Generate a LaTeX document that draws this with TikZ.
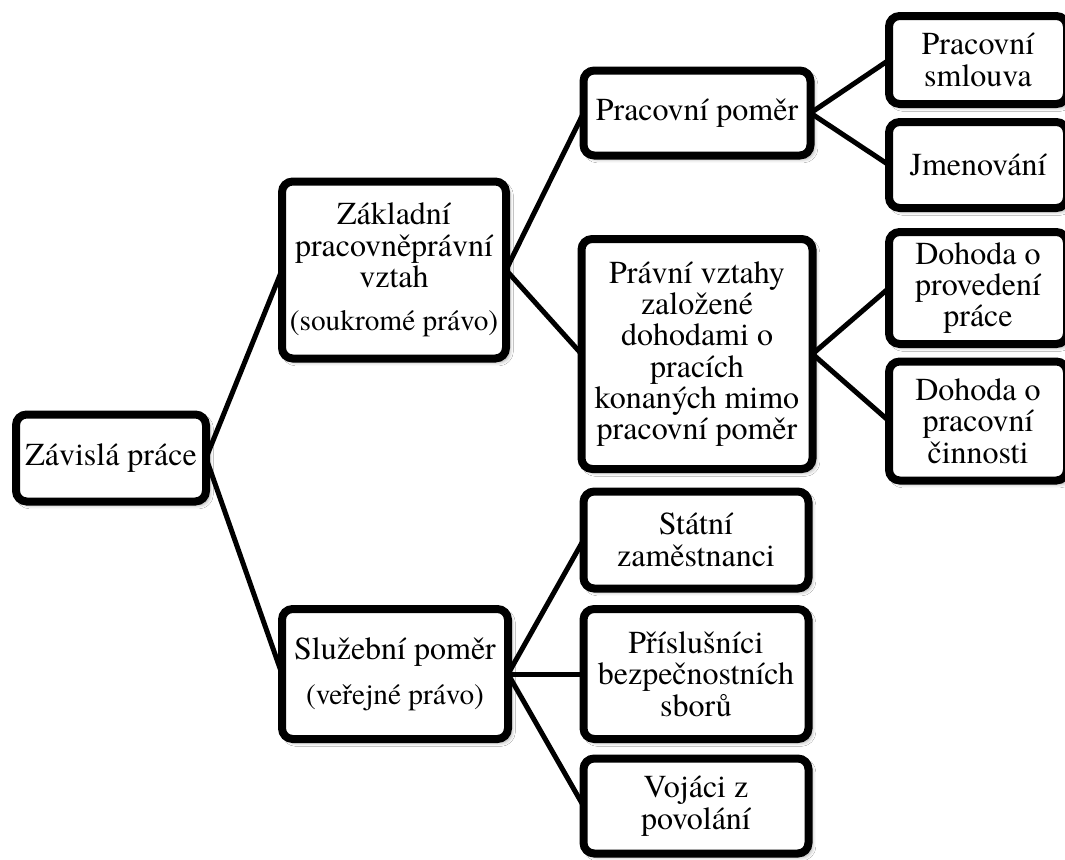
\documentclass[tikz,border=0pt]{standalone}
\usepackage{fontspec}
\setmainfont{TeX Gyre Termes}
\usetikzlibrary{backgrounds,shadows.blur}
\tikzset{
  bx/.style={draw=black, line width=6pt, fill=white, rounded corners=8pt,
    align=center, inner sep=0pt, outer sep=0pt,
    font=\fontsize{24pt}{23.5pt}\selectfont,
    blur shadow={shadow xshift=2.5pt, shadow yshift=-2.5pt, shadow blur radius=3pt, shadow opacity=40}},
  link/.style={draw=black, line width=3.75pt},
}
\newcommand{\paren}[1]{{\fontsize{22pt}{23pt}\selectfont #1}}
\begin{document}
\begin{tikzpicture}[x=0.75pt, y=-0.75pt]
\useasboundingbox (0,0) rectangle (1065,860);
\node[bx, minimum width=142.5pt, minimum height=65.25pt] (root) at (111,458) {Závislá práce};
\node[bx, minimum width=168pt, minimum height=132.75pt] (zak) at (394,270) {Základní\\pracovněprávní\\vztah\\[9pt]\paren{(soukromé právo)}};
\node[bx, minimum width=169.5pt, minimum height=97.5pt] (slu) at (395,674) {Služební poměr\\[10pt]\paren{(veřejné právo)}};
\node[bx, minimum width=170.25pt, minimum height=63.75pt] (pp) at (697,113) {Pracovní poměr};
\node[bx, minimum width=173.25pt, minimum height=172.5pt] (prv) at (697,354) {Právní vztahy\\založené\\dohodami o\\pracích\\konaných mimo\\pracovní poměr};
\node[bx, minimum width=133.5pt, minimum height=66pt] (sml) at (978,60) {Pracovní\\smlouva};
\node[bx, minimum width=133.5pt, minimum height=64.5pt] (jmen) at (978,165) {Jmenování};
\node[bx, minimum width=133.5pt, minimum height=84pt] (dpp) at (978,288) {Dohoda o\\provedení\\práce};
\node[bx, minimum width=133.5pt, minimum height=89.25pt] (dpc) at (978,421) {Dohoda o\\pracovní\\činnosti};
\node[bx, minimum width=168.75pt, minimum height=72.75pt] (stat) at (696,540) {Státní\\zaměstnanci};
\node[bx, minimum width=168.75pt, minimum height=97.5pt] (pris) at (696,674) {Příslušníci\\bezpečnostních\\sborů};
\node[bx, minimum width=168.75pt, minimum height=71.25pt] (voj) at (696,806) {Vojáci z\\povolání};
\begin{scope}[on background layer]
\fill[white] (0,0) rectangle (1065,860);
\draw[link] (root.east) -- (zak.west);
\draw[link] (root.east) -- (slu.west);
\draw[link] (zak.east) -- (pp.west);
\draw[link] (zak.east) -- (prv.west);
\draw[link] (pp.east) -- (sml.west);
\draw[link] (pp.east) -- (jmen.west);
\draw[link] (prv.east) -- (dpp.west);
\draw[link] (prv.east) -- (dpc.west);
\draw[link] (slu.east) -- (stat.west);
\draw[link] (slu.east) -- (pris.west);
\draw[link] (slu.east) -- (voj.west);
\end{scope}
\end{tikzpicture}
\end{document}
